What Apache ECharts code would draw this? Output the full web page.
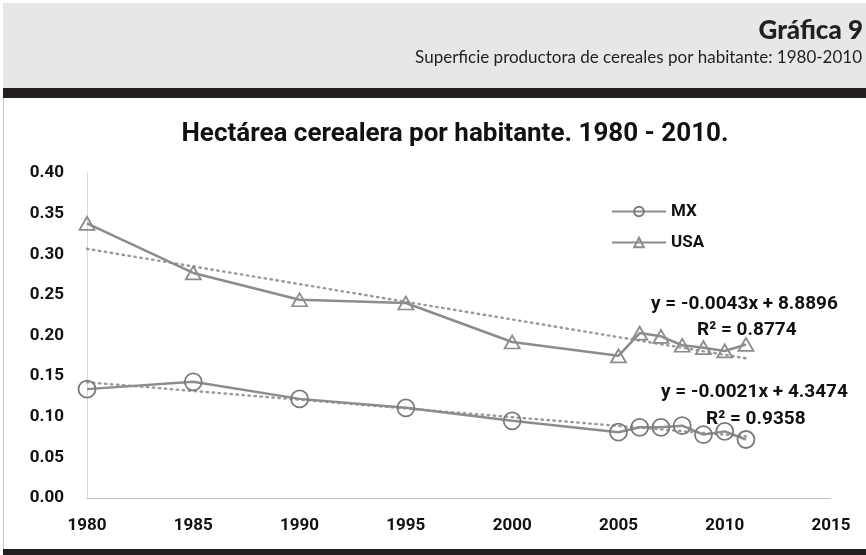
<!DOCTYPE html>
<html>
<head>
<meta charset="utf-8">
<script src="https://cdn.jsdelivr.net/npm/echarts@6/dist/echarts.min.js"></script>
<style>
  html, body { margin:0; padding:0; background:#fff; }
  #main { width:866px; height:555px; }
</style>
</head>
<body>
<div id="main"></div>
<script>
// años y valores (hectáreas por habitante)
var years = [1980, 1985, 1990, 1995, 2000, 2005, 2006, 2007, 2008, 2009, 2010, 2011];
var mxValues = [0.134, 0.143, 0.122, 0.111, 0.095, 0.081, 0.087, 0.087, 0.089, 0.078, 0.082, 0.072];
var usaValues = [0.338, 0.277, 0.244, 0.240, 0.192, 0.175, 0.203, 0.199, 0.188, 0.185, 0.181, 0.189];
var seriesNames = ['MX', 'USA'];
var yTicks = [0, 0.05, 0.10, 0.15, 0.20, 0.25, 0.30, 0.35, 0.40];
var xTicks = [1980, 1985, 1990, 1995, 2000, 2005, 2010, 2015];

var lineGray = '#8c8c8c';
var fontBold = 'Roboto, "Liberation Sans", sans-serif';

// tendencia lineal (minimos cuadrados) a partir de los datos
function trend(xs, ys) {
    var n = xs.length, mx = 0, my = 0;
    for (var i = 0; i < n; i++) { mx += xs[i]; my += ys[i]; }
    mx /= n; my /= n;
    var sxy = 0, sxx = 0;
    for (var j = 0; j < n; j++) {
        sxy += (xs[j] - mx) * (ys[j] - my);
        sxx += (xs[j] - mx) * (xs[j] - mx);
    }
    var b = sxy / sxx, a = my - b * mx;
    var x0 = xs[0], x1 = xs[n - 1];
    return [[x0, a + b * x0], [x1, a + b * x1]];
}

function pairs(xs, ys) {
    var out = [];
    for (var i = 0; i < xs.length; i++) out.push([xs[i], ys[i]]);
    return out;
}

var myChart = echarts.init(document.getElementById('main'));

var option = {
    backgroundColor: '#ffffff',
    animation: false,
    title: {
        text: 'Hectárea cerealera por habitante. 1980 - 2010.',
        left: 450,
        textAlign: 'center',
        top: 116,
        textStyle: { fontFamily: fontBold, fontWeight: 'bold', fontSize: 26, color: '#111' }
    },
    legend: {
        data: seriesNames,
        orient: 'vertical',
        left: 606,
        top: 198,
        itemWidth: 54,
        itemHeight: 12,
        itemGap: 14,
        textStyle: { fontFamily: fontBold, fontWeight: 'bold', fontSize: 17, color: '#111' }
    },
    grid: { left: 87, right: 35, top: 173, bottom: 57 },
    xAxis: {
        type: 'value',
        min: xTicks[0],
        max: xTicks[xTicks.length - 1],
        interval: 5,
        axisLine: { lineStyle: { color: '#bfbfbf', width: 1 } },
        axisTick: { show: false },
        splitLine: { show: false },
        axisLabel: {
            margin: 19,
            fontFamily: fontBold, fontWeight: 'bold', fontSize: 17, color: '#111',
            formatter: function (v) { return String(v); }
        }
    },
    yAxis: {
        type: 'value',
        min: yTicks[0],
        max: yTicks[yTicks.length - 1],
        interval: 0.05,
        axisLine: { show: true, lineStyle: { color: '#d9d9d9', width: 1 } },
        axisTick: { show: false },
        splitLine: { show: false },
        axisLabel: {
            margin: 23,
            fontFamily: fontBold, fontWeight: 'bold', fontSize: 17, color: '#111',
            formatter: function (v) { return v.toFixed(2); }
        }
    },
    series: [
        {
            name: 'MX',
            type: 'line',
            data: pairs(years, mxValues),
            symbol: 'circle',
            symbolSize: 17,
            lineStyle: { color: lineGray, width: 2.5 },
            itemStyle: { color: 'rgba(0,0,0,0)', borderColor: '#7a7a7a', borderWidth: 1.8 },
            z: 3
        },
        {
            name: 'USA',
            type: 'line',
            data: pairs(years, usaValues),
            symbol: 'triangle',
            symbolSize: [15, 13],
            lineStyle: { color: lineGray, width: 2.5 },
            itemStyle: { color: 'rgba(0,0,0,0)', borderColor: '#8c8c8c', borderWidth: 1.8 },
            z: 3
        },
        {
            name: 'Tendencia MX',
            type: 'line',
            data: trend(years, mxValues),
            showSymbol: false,
            lineStyle: { color: '#9a9a9a', width: 2.4, type: [1.5, 4.5], cap: 'round' },
            z: 2
        },
        {
            name: 'Tendencia USA',
            type: 'line',
            data: trend(years, usaValues),
            showSymbol: false,
            lineStyle: { color: '#9a9a9a', width: 2.4, type: [1.5, 4.5], cap: 'round' },
            z: 2
        }
    ],
    graphic: [
        // encabezado
        { type: 'rect', shape: { x: 3, y: 3, width: 863, height: 85 }, style: { fill: '#e6e7e8' }, z: -10 },
        { type: 'rect', shape: { x: 3, y: 88, width: 863, height: 10 }, style: { fill: '#231f20' }, z: -10 },
        { type: 'rect', shape: { x: 3, y: 549, width: 863, height: 6 }, style: { fill: '#231f20' }, z: -10 },
        { type: 'line', shape: { x1: 3.5, y1: 98, x2: 3.5, y2: 549 }, style: { stroke: '#c8c8c8', lineWidth: 1 }, z: -10 },
        {
            type: 'text', right: 3, top: 18,
            style: { text: 'Gráfica 9', font: '900 26px Lato, "Open Sans", sans-serif', fill: '#231f20' }
        },
        {
            type: 'text', right: 4, top: 49,
            style: { text: 'Superficie productora de cereales por habitante: 1980-2010', font: '17px Lato, "Open Sans", sans-serif', fill: '#231f20' }
        },
        // ecuaciones de tendencia
        {
            type: 'text', left: 651, top: 295,
            style: { text: 'y = -0.0043x + 8.8896', font: 'bold 19px ' + fontBold, fill: '#111' }
        },
        {
            type: 'text', left: 697, top: 321,
            style: { text: 'R² = 0.8774', font: 'bold 19px ' + fontBold, fill: '#111' }
        },
        {
            type: 'text', left: 661, top: 383,
            style: { text: 'y = -0.0021x + 4.3474', font: 'bold 19px ' + fontBold, fill: '#111' }
        },
        {
            type: 'text', left: 706, top: 410,
            style: { text: 'R² = 0.9358', font: 'bold 19px ' + fontBold, fill: '#111' }
        }
    ]
};

myChart.setOption(option);
</script>
</body>
</html>
